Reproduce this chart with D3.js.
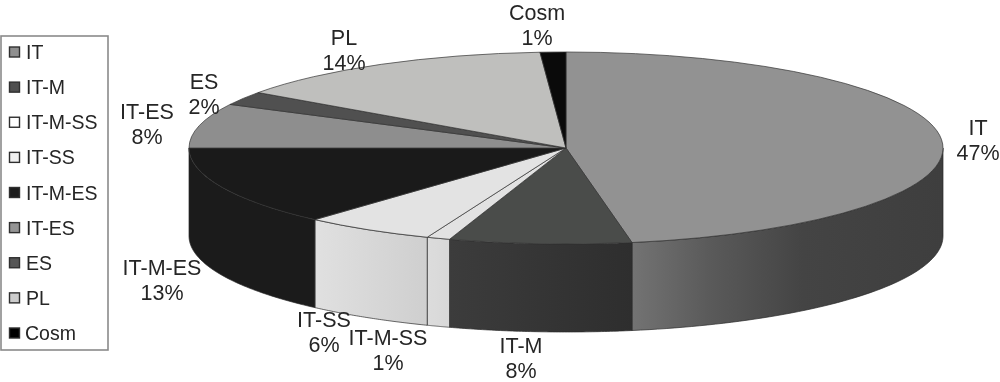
<!DOCTYPE html>
<html><head><meta charset="utf-8">
<script src="https://cdn.jsdelivr.net/npm/d3@7/dist/d3.min.js"></script>
<style>html,body{margin:0;padding:0;background:#fff}svg{display:block;font-family:"Liberation Sans",Arial,sans-serif;filter:blur(.45px)}</style>
</head><body><svg id="c" width="1000" height="382"></svg>
<script>
const categories=["IT","IT-M","IT-M-SS","IT-SS","IT-M-ES","IT-ES","ES","PL","Cosm"];
const shares=[47.2,7.8,1.0,5.6,13.4,7.5,2.3,14.1,1.1];
const topColors=["#929292","#4a4c4a","#e2e2e2","#e3e3e3","#1a1a1a","#8e8e8e","#505050","#bfbfbd","#0a0a0a"];
const wallStops=[
 [["0","#737373"],[".25","#5a5a5a"],[".55","#444"],["1","#3e3e3e"]],
 [["0","#3c3c3c"],["1","#2e2e2e"]],
 [["0","#dcdcdc"],["1","#d8d8d8"]],
 [["0","#e0e0e0"],["1","#cfcfcf"]],
 [["0","#1b1b1b"],["1","#1b1b1b"]],
 [["0","#888"],["1","#888"]],
 [["0","#444"],["1","#444"]],
 [["0","#aaa"],["1","#aaa"]],
 [["0","#000"],["1","#000"]]
];
const labelAnchors=[[978,135],[521,353],[388,345],[324,327],[162,275],[147,119],[204,89],[344,45],[537,20]];
const legendSwatchFill=["#8f8f8f","#4f4f4f","#fff","#f0f0f0","#1c1c1c","#949494","#555","#ccc","#000"];

const cx=566,cy=148,rx=377,ry=96,depth=88;
const svg=d3.select("#c");
const defs=svg.append("defs");
const pie=d3.pie().sort(null).value(d=>d.v);
const arcs=pie(categories.map((c,i)=>({c,v:shares[i],i})));
const px=a=>cx+rx*Math.sin(a), py=a=>cy-ry*Math.cos(a);
const line=d3.line();

// walls (front half only)
const front=[Math.PI/2,3*Math.PI/2];
arcs.forEach(d=>{
  const a0=Math.max(d.startAngle,front[0]),a1=Math.min(d.endAngle,front[1]);
  if(a1<=a0) return;
  const i=d.data.i,id="w"+i;
  const g=defs.append("linearGradient").attr("id",id).attr("gradientUnits","userSpaceOnUse")
    .attr("x1",Math.min(px(a0),px(a1))).attr("x2",Math.max(px(a0),px(a1))).attr("y1",0).attr("y2",0);
  const st=wallStops[i];
  st.forEach(s=>g.append("stop").attr("offset",s[0]).attr("stop-color",s[1]));
  const as=d3.range(0,61).map(k=>a0+(a1-a0)*k/60);
  const pts=as.map(a=>[px(a),py(a)]).concat(as.slice().reverse().map(a=>[px(a),py(a)+depth]));
  svg.append("path").attr("d",line(pts)+"Z").attr("fill",`url(#${id})`)
    .attr("stroke","#2a2a2a").attr("stroke-width",.7).attr("stroke-linejoin","round");
});

// top faces
const topG=svg.append("g").attr("transform",`translate(${cx},${cy}) scale(1,${ry/rx})`);
const arc=d3.arc().innerRadius(0).outerRadius(rx);
topG.selectAll("path").data(arcs).join("path").attr("d",arc)
  .attr("fill",d=>topColors[d.data.i]).attr("stroke","#333").attr("stroke-width",.7)
  .attr("vector-effect","non-scaling-stroke").attr("stroke-linejoin","round");

// data labels
const fmt=d3.format(".0f");
const lab=svg.append("g").attr("font-size",21.5).attr("fill","#262626").attr("text-anchor","middle");
arcs.forEach(d=>{
  const [x,y]=labelAnchors[d.data.i];
  lab.append("text").attr("x",x).attr("y",y).text(d.data.c);
  lab.append("text").attr("x",x).attr("y",y+24.5).text(fmt(d.data.v)+"%");
});

// legend
svg.append("rect").attr("x",1).attr("y",36).attr("width",107).attr("height",314)
  .attr("fill","#fff").attr("stroke","#8a8a8a").attr("stroke-width",1.6);
const ly=d3.scalePoint().domain(categories).range([52,333]);
const leg=svg.append("g").selectAll("g").data(categories).join("g")
  .attr("transform",c=>`translate(0,${ly(c)})`);
leg.append("rect").attr("x",9.5).attr("y",-5).attr("width",10).attr("height",10)
  .attr("fill",(c,i)=>legendSwatchFill[i]).attr("stroke","#2f2f2f").attr("stroke-width",1.4);
leg.append("text").attr("x",(c,i)=>i===8?25:26).attr("y",7).attr("font-size",19.5)
  .attr("fill","#262626").text(c=>c);
</script></body></html>
